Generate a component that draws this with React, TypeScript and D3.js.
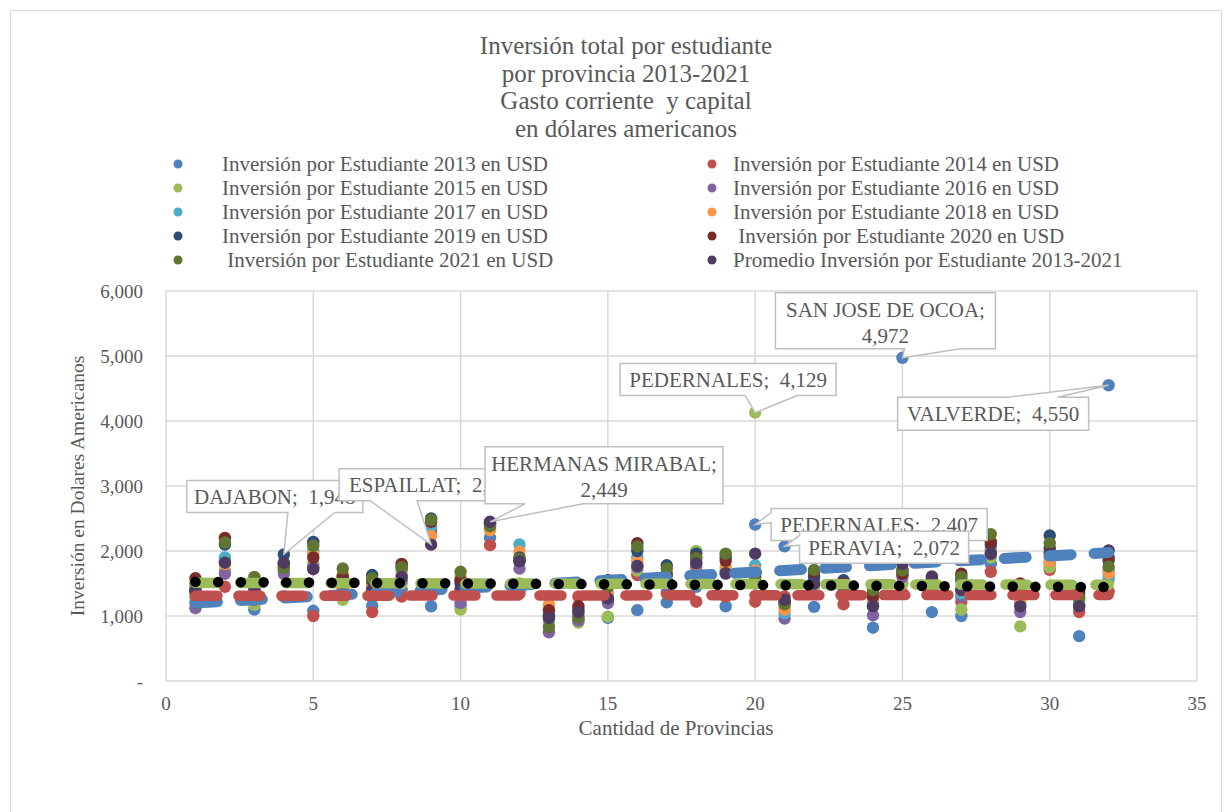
import * as d3 from 'd3';

// provincias en el orden del eje X (1..32)
const provinces = [
    "AZUA", "BAHORUCO", "BARAHONA", "DAJABON", "DISTRITO NACIONAL", "DUARTE", "EL SEIBO", "ELIAS PIÑA",
    "ESPAILLAT", "HATO MAYOR", "HERMANAS MIRABAL", "INDEPENDENCIA", "LA ALTAGRACIA", "LA ROMANA", "LA VEGA",
    "MARIA TRINIDAD SANCHEZ", "MONSEÑOR NOUEL", "MONTE CRISTI", "MONTE PLATA", "PEDERNALES", "PERAVIA",
    "PUERTO PLATA", "SAMANA", "SAN CRISTOBAL", "SAN JOSE DE OCOA", "SAN JUAN", "SAN PEDRO DE MACORIS",
    "SANCHEZ RAMIREZ", "SANTIAGO", "SANTIAGO RODRIGUEZ", "SANTO DOMINGO", "VALVERDE"
];

const seriesNames = [
    "Inversión por Estudiante 2013 en USD", "Inversión por Estudiante 2014 en USD",
    "Inversión por Estudiante 2015 en USD", "Inversión por Estudiante 2016 en USD",
    "Inversión por Estudiante 2017 en USD", "Inversión por Estudiante 2018 en USD",
    "Inversión por Estudiante 2019 en USD", " Inversión por Estudiante 2020 en USD",
    " Inversión por Estudiante 2021 en USD", "Promedio Inversión por Estudiante 2013-2021"
];
const seriesColors = ["#4F81BD", "#C0504D", "#9BBB59", "#8064A2", "#4BACC6", "#F79646", "#2C4D75", "#772C2A", "#5F7530", "#4D3B62"];

const inv2013 = [1200, 1850, 1100, 1300, 1080, 1350, 1160, 1400, 1150, 1150, 2200, 1400, 1000, 950, 970, 1090, 1210, 1450, 1150, 2407, 2072, 1140, 1300, 820, 4972, 1060, 1000, 1800, 1300, 1800, 690, 4550];
const inv2014 = [1300, 1450, 1300, 1700, 1000, 1400, 1060, 1300, 1350, 1350, 2090, 1350, 1300, 1300, 1230, 1630, 1350, 1220, 1300, 1220, 1300, 1350, 1180, 1300, 1350, 1350, 1220, 1680, 1350, 1710, 1060, 1380];
const inv2015 = [1350, 1700, 1170, 1750, 1800, 1250, 1400, 1500, 2350, 1100, 2350, 1500, 900, 900, 990, 1700, 1500, 2000, 1950, 4129, 1150, 1450, 1400, 1150, 1500, 1450, 1100, 1900, 840, 1750, 1200, 1550];
const inv2016 = [1120, 1650, 1250, 1650, 1750, 1500, 1450, 1550, 2300, 1200, 2440, 1730, 750, 930, 1200, 1750, 1450, 1750, 1650, 1500, 960, 1500, 1350, 1010, 1600, 1400, 1300, 1950, 1060, 1900, 1150, 1700];
const inv2017 = [1400, 1900, 1350, 1800, 2000, 1600, 1500, 1700, 2380, 1550, 2430, 2100, 950, 1000, 1300, 1900, 1600, 1850, 1700, 1780, 1040, 1550, 1450, 1200, 1650, 1500, 1350, 2000, 1200, 2000, 1250, 1600];
const inv2018 = [1450, 1800, 1400, 1750, 1950, 1650, 1450, 1650, 2230, 1600, 2320, 1990, 1170, 1050, 1350, 1840, 1550, 1800, 1760, 1700, 1100, 1650, 1500, 1250, 1730, 1550, 1400, 2050, 1250, 1840, 1300, 1660];
const inv2019 = [1400, 2100, 1500, 1948, 2140, 1550, 1630, 1750, 2500, 1500, 2400, 1900, 1000, 1100, 1450, 2000, 1780, 1960, 1900, 1650, 1200, 1600, 1550, 1350, 1700, 1580, 1550, 2100, 1400, 2240, 1350, 1850];
const inv2020 = [1580, 2200, 1450, 1800, 1900, 1600, 1550, 1800, 2450, 1550, 2420, 1850, 1090, 1150, 1550, 2120, 1650, 1900, 1850, 1600, 1220, 1680, 1500, 1300, 1650, 1450, 1650, 2140, 1500, 2050, 1400, 1900];
const inv2021 = [1500, 2130, 1600, 1740, 2080, 1730, 1580, 1750, 2480, 1680, 2380, 1880, 830, 980, 1450, 2070, 1730, 1890, 1960, 1550, 1180, 1710, 1450, 1400, 1700, 1480, 1600, 2260, 1450, 2120, 1280, 1760];
const promedio = [1380, 1820, 1400, 1820, 1720, 1510, 1400, 1600, 2098, 1420, 2449, 1840, 970, 1060, 1270, 1770, 1520, 1810, 1660, 1960, 1250, 1500, 1450, 1150, 1800, 1610, 1400, 1960, 1150, 1960, 1150, 2010];

const allSeries = [inv2013, inv2014, inv2015, inv2016, inv2017, inv2018, inv2019, inv2020, inv2021, promedio];

const trendSeries = [0, 1, 2, 9];
const trendStart = [1200, 1310, 1510, 1525];
const trendEnd = [1975, 1325, 1480, 1445];

const titleLines = ["Inversión total por estudiante", "por provincia 2013-2021", "Gasto corriente  y capital", "en dólares americanos"];
const xTicks = [0, 5, 10, 15, 20, 25, 30, 35];
const yTicks = [0, 1000, 2000, 3000, 4000, 5000, 6000];

// etiquetas de datos: provincia (1..32) y serie
const labelProv = [4, 9, 11, 20, 25, 32, 20, 21];
const labelSeries = [6, 9, 9, 2, 0, 0, 0, 0];

// posicion de cada cuadro de llamada respecto al punto
const calloutLayout = [
    { dx: -97, dy: -74, w: 176, h: 32, side: "bottom", b1: 4, b2: 51, wrap: false },
    { dx: -92, dy: -76, w: 190, h: 32, side: "bottom", b1: -61, b2: -14, wrap: false },
    { dx: -5, dy: -75, w: 238, h: 57, side: "bottom", b1: 35, b2: 93, wrap: true },
    { dx: -135, dy: -49, w: 216, h: 32, side: "bottom", b1: -10, b2: 42, wrap: false },
    { dx: -127, dy: -65, w: 220, h: 56, side: "bottom", b1: 2, b2: 58, wrap: true },
    { dx: -211, dy: 12, w: 191, h: 33, side: "top", b1: -101, b2: -51, wrap: false },
    { dx: 16, dy: -16, w: 216, h: 32, side: "left", b1: -12, b2: -2, wrap: false },
    { dx: 15, dy: -15, w: 169, h: 32, side: "left", b1: -11, b2: -1, wrap: false },
];

const W = 1232, H = 812;
const plot = { left: 166, right: 1197, top: 291, bottom: 681 };
const textColor = "#595959";
const gridColor = "#D9D9D9";
const font = "'Liberation Serif', 'DejaVu Serif', serif";

function calloutPath(px: number, py: number, bx: number, by: number, bw: number, bh: number, side: string, b1: number, b2: number) {
    if (side === "bottom") {
        return `M${bx},${by}H${bx + bw}V${by + bh}H${b2}L${px},${py}L${b1},${by + bh}H${bx}Z`;
    }
    if (side === "top") {
        return `M${bx},${by}H${b1}L${px},${py}L${b2},${by}H${bx + bw}V${by + bh}H${bx}Z`;
    }
    return `M${bx},${by}H${bx + bw}V${by + bh}H${bx}V${b2}L${px},${py}L${bx},${b1}Z`;
}

const App = () => {
    const x = d3.scaleLinear().domain([0, 35]).range([plot.left, plot.right]);
    const y = d3.scaleLinear().domain([0, 6000]).range([plot.bottom, plot.top]);
    const fmt = d3.format(",");

    const trendStyles = [
        { width: 11, dash: "22 23" },
        { width: 10.5, dash: "22 21" },
        { width: 10.5, dash: "22 23" },
        { width: 10.5, dash: "0.1 22.6" },
    ];
    const trendColors = ["#4F81BD", "#C0504D", "#9BBB59", "#000000"];

    return (
        <svg width={W} height={H} style={{ position: "absolute", left: 0, top: 0, background: "#fff" }} fontFamily={font}>
            <rect x={10.5} y={10.5} width={1211} height={830} fill="#fff" stroke={gridColor} strokeWidth={1} />

            {/* titulo */}
            {titleLines.map((t, i) => (
                <text key={i} x={626} y={54 + i * 27.6} textAnchor="middle" fontSize={25} fill={textColor} style={{ whiteSpace: "pre" }}>{t}</text>
            ))}

            {/* leyenda */}
            {seriesNames.map((name, i) => {
                const col = i % 2, row = Math.floor(i / 2);
                const mx = col === 0 ? 178 : 712;
                const tx = col === 0 ? 222 : 733;
                const cy = 164 + row * 24;
                return (
                    <g key={i}>
                        <circle cx={mx} cy={cy} r={4.5} fill={seriesColors[i]} />
                        <text x={tx} y={cy + 7} fontSize={21} fill={textColor} style={{ whiteSpace: "pre" }}>{name}</text>
                    </g>
                );
            })}

            {/* rejilla */}
            {yTicks.map(t => (
                <line key={"gy" + t} x1={plot.left} x2={plot.right} y1={y(t)} y2={y(t)} stroke={gridColor} strokeWidth={1.5} />
            ))}
            {xTicks.map(t => (
                <line key={"gx" + t} x1={x(t)} x2={x(t)} y1={plot.top} y2={plot.bottom} stroke={gridColor} strokeWidth={1.5} />
            ))}

            {/* etiquetas de ejes */}
            {yTicks.map(t => (
                <text key={"ly" + t} x={143} y={y(t) + 6.5} textAnchor="end" fontSize={19} fill={textColor}>{t === 0 ? "-" : fmt(t)}</text>
            ))}
            {xTicks.map(t => (
                <text key={"lx" + t} x={x(t)} y={710} textAnchor="middle" fontSize={19} fill={textColor}>{t}</text>
            ))}
            <text x={676} y={735} textAnchor="middle" fontSize={21} fill={textColor}>Cantidad de Provincias</text>
            <text transform={`translate(84,486) rotate(-90)`} textAnchor="middle" fontSize={19.5} fill={textColor}>Inversión en Dolares Americanos</text>

            {/* puntos */}
            {allSeries.map((vals, s) => (
                <g key={"s" + s}>
                    {vals.map((v, i) => (
                        <circle key={i} cx={x(i + 1)} cy={y(v)} r={6.2} fill={seriesColors[s]} />
                    ))}
                </g>
            ))}

            {/* tendencias */}
            {trendSeries.map((s, k) => (
                <line key={"t" + s} x1={x(1)} y1={y(trendStart[k])} x2={x(provinces.length)} y2={y(trendEnd[k])}
                    stroke={trendColors[k]} strokeWidth={trendStyles[k].width} strokeDasharray={trendStyles[k].dash}
                    strokeLinecap="round" />
            ))}

            {/* etiquetas de datos */}
            {labelProv.map((p, k) => {
                const s = labelSeries[k];
                const v = allSeries[s][p - 1];
                const px = x(p), py = y(v);
                const L = calloutLayout[k];
                const bx = px + L.dx, by = py + L.dy;
                const b1 = L.side === "left" ? py + L.b1 : px + L.b1;
                const b2 = L.side === "left" ? py + L.b2 : px + L.b2;
                const name = provinces[p - 1];
                const lines = L.wrap ? [name + ";", fmt(v)] : [`${name};  ${fmt(v)}`];
                return (
                    <g key={"c" + k}>
                        <path d={calloutPath(px, py, bx, by, L.w, L.h, L.side, b1, b2)} fill="#fff" stroke="#BFBFBF" strokeWidth={1.5} />
                        {lines.map((ln, j) => (
                            <text key={j} x={bx + L.w / 2} y={by + (L.wrap ? 24 + j * 26 : L.h / 2 + 7.5)} textAnchor="middle"
                                fontSize={21} fill={textColor} style={{ whiteSpace: "pre" }}>{ln}</text>
                        ))}
                    </g>
                );
            })}
        </svg>
    );
};

export default App;
